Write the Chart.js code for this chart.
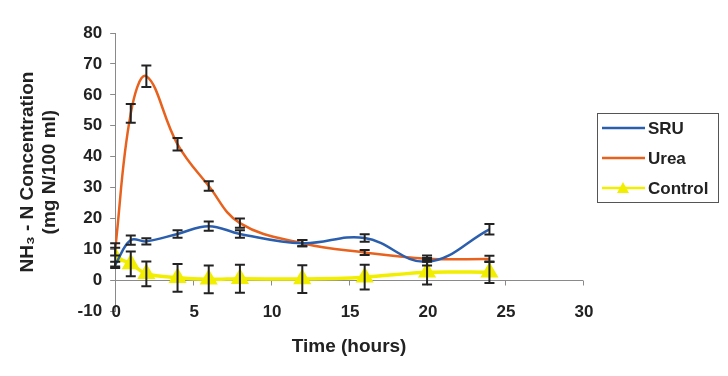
<!DOCTYPE html>
<html>
<head>
<meta charset="utf-8">
<script src="https://cdn.jsdelivr.net/npm/chart.js@4.4.1/dist/chart.umd.min.js"></script>
<style>
  html, body { margin: 0; padding: 0; background: #fff; }
  #wrap { width: 728px; height: 376px; position: relative; }
</style>
</head>
<body>
<div id="wrap"><canvas id="nh3Chart"></canvas></div>
<script>
// Sampling times (hours) and NH3-N means / error bars
const hours = [0, 1, 2, 4, 6, 8, 12, 16, 20, 24];
const sruValues = [5, 13, 12.6, 15, 17.5, 15, 12, 13.7, 6, 16.5];
const sruErrors = [1, 1.5, 1, 1.2, 1.5, 1.2, 1, 1.2, 1.2, 1.7];
const ureaValues = [10, 54, 66, 44, 30.5, 18.5, 12, 9, 7, 6.9];
const ureaErrors = [2, 3, 3.5, 2, 1.5, 1.5, 1, 0.8, 1, 1];
const controlValues = [7.5, 5.3, 2.1, 0.8, 0.3, 0.5, 0.4, 1, 2.6, 2.6];
const controlErrors = [3, 4, 4, 4.5, 4.5, 4.5, 4.5, 4, 4, 3.5];

const xTicks = [0, 5, 10, 15, 20, 25, 30];
const yTicks = [-10, 0, 10, 20, 30, 40, 50, 60, 70, 80];

const FONT = 'Arial, "Liberation Sans", sans-serif';
const AXIS_GREY = '#8a8a8a';
const INK = '#222';

function toPoints(values) {
    return hours.map((h, i) => ({ x: h, y: values[i] }));
}

// error bars, drawn through the chart's own scales
const errorBars = {
    id: 'errorBars',
    afterDatasetsDraw(chart) {
        const ctx = chart.ctx;
        const xs = chart.scales.x, ys = chart.scales.y;
        ctx.save();
        ctx.strokeStyle = INK;
        ctx.lineWidth = 2;
        chart.data.datasets.forEach(ds => {
            if (!ds.errors) return;
            ds.data.forEach((p, i) => {
                const x = xs.getPixelForValue(p.x);
                const top = ys.getPixelForValue(p.y + ds.errors[i]);
                const bot = ys.getPixelForValue(p.y - ds.errors[i]);
                ctx.beginPath();
                ctx.moveTo(x, top); ctx.lineTo(x, bot);
                ctx.moveTo(x - 5, top); ctx.lineTo(x + 5, top);
                ctx.moveTo(x - 5, bot); ctx.lineTo(x + 5, bot);
                ctx.stroke();
            });
        });
        ctx.restore();
    }
};

// x axis line sits at y = 0 with small tick marks; its labels sit level with the -10 tick
const zeroAxis = {
    id: 'zeroAxis',
    beforeDatasetsDraw(chart) {
        const ctx = chart.ctx;
        const xs = chart.scales.x, ys = chart.scales.y;
        const y0 = Math.round(ys.getPixelForValue(0)) + 0.5;
        ctx.save();
        ctx.strokeStyle = AXIS_GREY;
        ctx.lineWidth = 1;
        ctx.beginPath();
        ctx.moveTo(xs.left, y0); ctx.lineTo(xs.right, y0);
        xTicks.forEach(t => {
            const x = Math.round(xs.getPixelForValue(t)) + 0.5;
            ctx.moveTo(x, y0); ctx.lineTo(x, y0 + 5);
        });
        ctx.stroke();
        const yl = ys.getPixelForValue(yTicks[0]);
        ctx.fillStyle = INK;
        ctx.font = 'bold 17px ' + FONT;
        ctx.textAlign = 'center';
        ctx.textBaseline = 'middle';
        xTicks.forEach(t => {
            ctx.fillText(String(t), xs.getPixelForValue(t) + 1, yl + 1);
        });
        ctx.restore();
    }
};

// boxed legend on the right
const boxLegend = {
    id: 'boxLegend',
    afterDraw(chart) {
        const ctx = chart.ctx;
        const left = 597, top = 113, w = 121, h = 89;
        ctx.save();
        ctx.strokeStyle = '#555';
        ctx.lineWidth = 1;
        ctx.strokeRect(left + 0.5, top + 0.5, w, h);
        ctx.font = 'bold 17px ' + FONT;
        ctx.textBaseline = 'middle';
        chart.data.datasets.forEach((ds, i) => {
            const y = top + 15 + i * 30;
            ctx.strokeStyle = ds.borderColor;
            ctx.lineWidth = 2.5;
            ctx.beginPath();
            ctx.moveTo(left + 5, y); ctx.lineTo(left + 48, y);
            ctx.stroke();
            if (ds.pointStyle === 'triangle') {
                const cx = left + 26;
                ctx.fillStyle = ds.pointBackgroundColor;
                ctx.beginPath();
                ctx.moveTo(cx, y - 6); ctx.lineTo(cx + 6, y + 5); ctx.lineTo(cx - 6, y + 5);
                ctx.closePath();
                ctx.fill();
            }
            ctx.fillStyle = INK;
            ctx.fillText(ds.label, left + 51, y + 1);
        });
        ctx.restore();
    }
};

new Chart(document.getElementById('nh3Chart').getContext('2d'), {
    type: 'line',
    data: {
        datasets: [
            {
                label: 'SRU',
                data: toPoints(sruValues),
                errors: sruErrors,
                borderColor: '#2b5fae',
                borderWidth: 2.5,
                pointRadius: 0,
                tension: 0.4,
                fill: false
            },
            {
                label: 'Urea',
                data: toPoints(ureaValues),
                errors: ureaErrors,
                borderColor: '#e8621e',
                borderWidth: 2.5,
                pointRadius: 0,
                tension: 0.4,
                fill: false
            },
            {
                label: 'Control',
                data: toPoints(controlValues),
                errors: controlErrors,
                borderColor: '#f2ee00',
                borderWidth: 3.5,
                pointStyle: 'triangle',
                pointRadius: 7,
                pointBackgroundColor: '#f2ee00',
                pointBorderColor: '#f2ee00',
                tension: 0.3,
                fill: false
            }
        ]
    },
    options: {
        responsive: true,
        maintainAspectRatio: false,
        animation: false,
        layout: { padding: { left: 12, right: 145, top: 33, bottom: 18 } },
        plugins: {
            legend: { display: false },
            tooltip: { enabled: false }
        },
        scales: {
            x: {
                type: 'linear',
                min: 0,
                max: 30,
                afterBuildTicks: axis => { axis.ticks = xTicks.map(v => ({ value: v })); },
                grid: { display: false },
                border: { display: false },
                ticks: { display: false },
                title: {
                    display: true,
                    text: 'Time (hours)',
                    color: INK,
                    padding: { top: 16, bottom: 0 },
                    font: { family: FONT, size: 19, weight: 'bold', lineHeight: 1.2 }
                }
            },
            y: {
                min: -10,
                max: 80,
                afterBuildTicks: axis => { axis.ticks = yTicks.map(v => ({ value: v })); },
                grid: {
                    color: ctx => 'rgba(0,0,0,0)',
                    tickColor: AXIS_GREY,
                    tickLength: 5,
                    drawTicks: true
                },
                border: { display: true, color: AXIS_GREY, width: 1 },
                ticks: { color: INK, padding: 8, font: { family: FONT, size: 17, weight: 'bold' } },
                title: {
                    display: true,
                    text: ['NH\u2083 - N Concentration', '(mg N/100 ml)'],
                    color: INK,
                    padding: { top: 4, bottom: 8 },
                    font: { family: FONT, size: 19, weight: 'bold', lineHeight: 1.2 }
                }
            }
        }
    },
    plugins: [zeroAxis, errorBars, boxLegend]
});
</script>
</body>
</html>
